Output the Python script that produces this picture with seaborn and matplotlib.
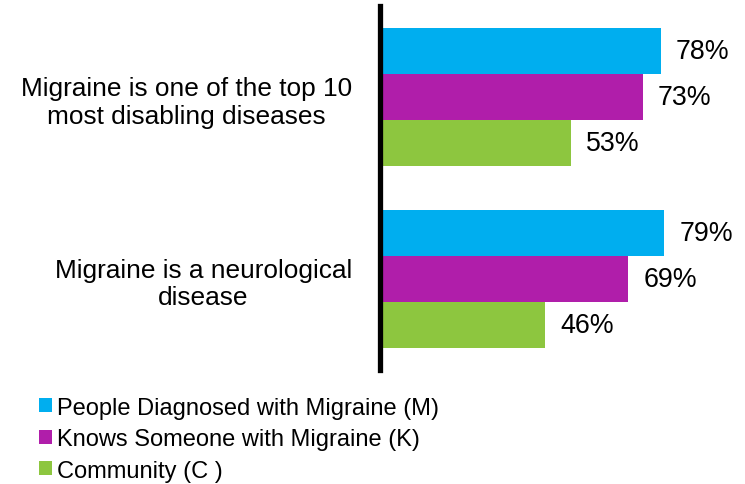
import pandas as pd
import seaborn as sns
import matplotlib.pyplot as plt
from matplotlib.patches import Patch

# chart data
statements = [
    "Migraine is one of the top 10\nmost disabling diseases",
    "Migraine is a neurological\ndisease",
]
groups = [
    "People Diagnosed with Migraine (M)",
    "Knows Someone with Migraine (K)",
    "Community (C )",
]
diagnosed = [78, 79]
knows_someone = [73, 69]
community = [53, 46]

colors = ["#00AEEF", "#B01EAA", "#8DC63F"]

# long format for seaborn
df = pd.DataFrame({
    "Statement": statements * 3,
    "Group": [groups[0]] * 2 + [groups[1]] * 2 + [groups[2]] * 2,
    "Value": diagnosed + knows_someone + community,
})

sns.set_style("white")
plt.rcParams["font.family"] = ["Liberation Sans", "DejaVu Sans"]

fig = plt.figure(figsize=(7.45, 4.85), dpi=100)
ax = fig.add_axes([0.510, 0.235, 0.483, 0.75])

sns.barplot(
    data=df,
    x="Value",
    y="Statement",
    hue="Group",
    hue_order=groups,
    order=statements,
    palette=colors,
    saturation=1,
    width=0.76,
    dodge=True,
    linewidth=0,
    legend=False,
    ax=ax,
)

# value labels to the right of each bar
for container in ax.containers:
    ax.bar_label(
        container,
        labels=[f"{v:.0f}%" for v in container.datavalues],
        padding=11,
        fontsize=19.3,
        color="black",
    )

ax.set_xlim(0, 100)
ax.set_ylim(1.5, -0.5)
ax.set_xlabel("")
ax.set_ylabel("")
ax.set_xticks([])
ax.tick_params(axis="y", length=0, pad=20, labelcolor="black")
for lbl in ax.get_yticklabels():
    lbl.set_fontsize(18.9)
    lbl.set_multialignment("center")
    lbl.set_linespacing(1.2)

for side in ["top", "right", "bottom"]:
    ax.spines[side].set_visible(False)
ax.spines["left"].set_color("black")
ax.spines["left"].set_linewidth(3.8)

# legend with square markers below the plot
handles = [Patch(facecolor=c, edgecolor="none") for c in colors]
fig.legend(
    handles,
    groups,
    loc="upper left",
    bbox_to_anchor=(0.052, 0.18),
    frameon=False,
    fontsize=17,
    labelcolor="black",
    handlelength=0.55,
    handleheight=0.55,
    handletextpad=0.22,
    labelspacing=0.4,
    borderpad=0,
    borderaxespad=0,
)

plt.savefig("out.png", dpi=100)
